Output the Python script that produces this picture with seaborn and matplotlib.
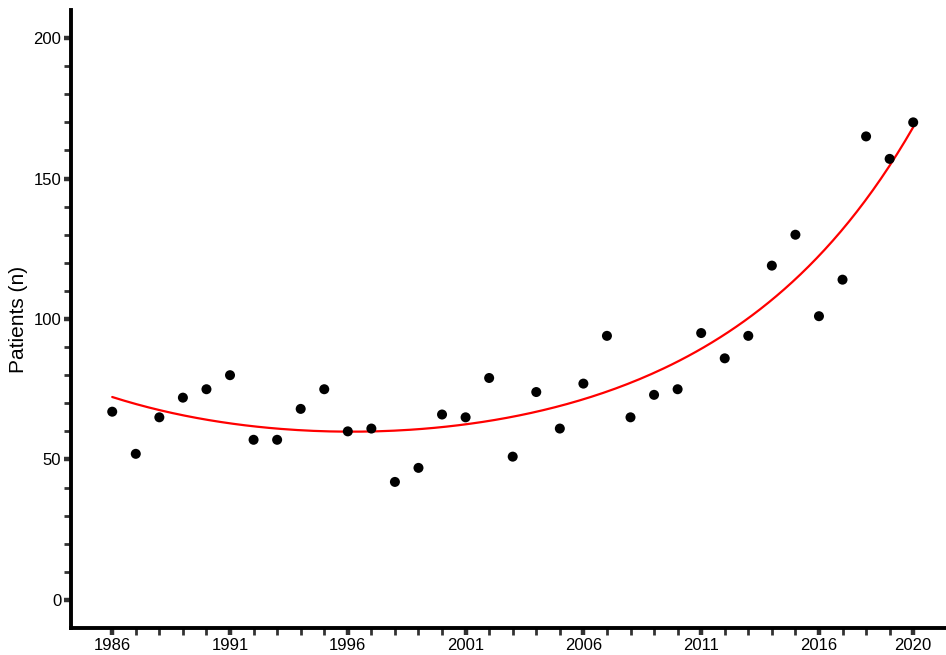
import numpy as np
import pandas as pd
import matplotlib
matplotlib.use("Agg")
import matplotlib.pyplot as plt
from matplotlib.ticker import FixedLocator
import seaborn as sns

years = list(range(1986, 2021))
patients = [67, 52, 65, 72, 75, 80, 57, 57, 68, 75,
            60, 61, 42, 47, 66, 65, 79, 51, 74, 61,
            77, 94, 65, 73, 75, 95, 86, 94, 119, 130,
            101, 114, 165, 157, 170]
x_tick_labels = [1986, 1991, 1996, 2001, 2006, 2011, 2016, 2020]
y_tick_labels = [0, 50, 100, 150, 200]

df = pd.DataFrame({"year": years, "patients": patients})

# Poisson regression with quadratic term (IRLS)
t = (df["year"].to_numpy() - 2003) / 10.0
yv = df["patients"].to_numpy(dtype=float)
X = np.column_stack([np.ones_like(t), t, t**2])
beta = np.array([np.log(yv.mean()), 0.0, 0.0])
for _ in range(50):
    eta = X @ beta
    mu = np.exp(eta)
    z = eta + (yv - mu) / mu
    W = mu
    beta = np.linalg.solve(X.T @ (W[:, None] * X), X.T @ (W * z))
fit_years = np.linspace(df["year"].min(), df["year"].max(), 200)
tf = (fit_years - 2003) / 10.0
fit_df = pd.DataFrame({"year": fit_years,
                       "fit": np.exp(beta[0] + beta[1]*tf + beta[2]*tf**2)})

sns.set_theme(style="ticks")
plt.rcParams["font.family"] = ["Liberation Sans", "DejaVu Sans"]

fig = plt.figure(figsize=(9.46, 6.55), dpi=100)
ax = fig.add_axes([71/946, 27/655, (945-71)/946, 618/655])

sns.lineplot(data=fit_df, x="year", y="fit", color="red", lw=1.6, ax=ax)
sns.scatterplot(data=df, x="year", y="patients", color="black", s=52,
                edgecolor="none", ax=ax, zorder=3)

ax.set_xlim(1984.25, 2021.35)
ax.set_ylim(-10, 210)
ax.xaxis.set_major_locator(FixedLocator(x_tick_labels))
ax.xaxis.set_minor_locator(FixedLocator([y for y in years if y not in x_tick_labels]))
ax.yaxis.set_major_locator(FixedLocator(y_tick_labels))
ax.yaxis.set_minor_locator(FixedLocator([v for v in range(0, 201, 10) if v % 50]))
ax.set_xticklabels([str(v) for v in x_tick_labels])
ax.set_yticklabels([str(v) for v in y_tick_labels])

ax.tick_params(axis="both", which="major", length=5, width=3.2, color="#333333",
               labelsize=12, labelcolor="black", pad=2)
ax.tick_params(axis="both", which="minor", length=5, width=2, color="#333333")

for s in ["top", "right"]:
    ax.spines[s].set_visible(False)
for s in ["left", "bottom"]:
    ax.spines[s].set_linewidth(2.8)
    ax.spines[s].set_color("black")

ax.set_xlabel("")
ax.set_ylabel("Patients (n)", fontsize=15, labelpad=4, color="black")

fig.savefig("out.png", dpi=100)
